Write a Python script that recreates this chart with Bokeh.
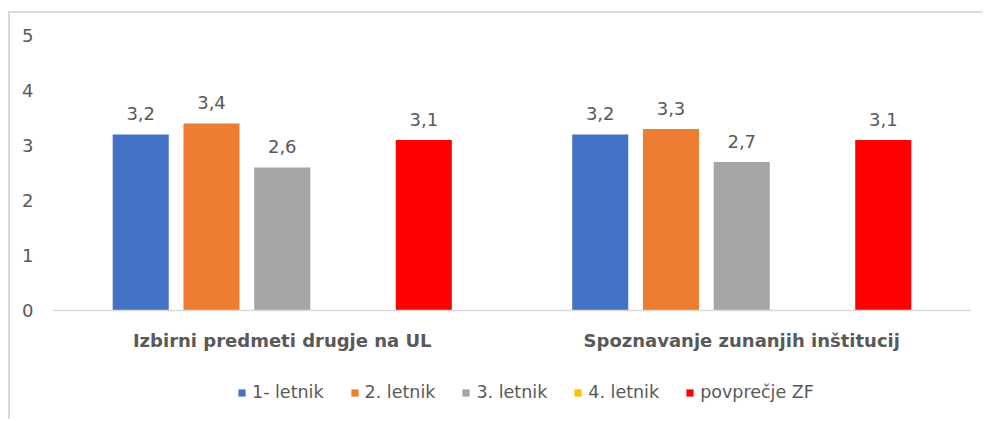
import math
from bokeh.plotting import figure
from bokeh.models import FactorRange, Range1d, ColumnDataSource, Legend, LegendItem
from bokeh.transform import dodge
from bokeh.core.properties import value
from bokeh.embed import file_html
from bokeh.resources import INLINE

categories = ["Izbirni predmeti drugje na UL", "Spoznavanje zunanjih inštitucij"]
series_names = ["1- letnik", "2. letnik", "3. letnik", "4. letnik", "povprečje ZF"]
letnik1 = [3.2, 3.2]
letnik2 = [3.4, 3.3]
letnik3 = [2.6, 2.7]
letnik4 = [float("nan"), float("nan")]
povprecje = [3.1, 3.1]
y_ticks = [0, 1, 2, 3, 4, 5]

series_values = [letnik1, letnik2, letnik3, letnik4, povprecje]
colors = ["#4472C4", "#ED7D31", "#A5A5A5", "#FFC000", "#FF0000"]
offsets = [-0.308, -0.154, 0.0, 0.154, 0.308]
bar_width = 0.122

FONT = "DejaVu Sans"
TXT = "#595959"

# frame spans 0..5 in the upper part; extra room below for labels and legend
p = figure(width=974, height=408,
           x_range=FactorRange(*categories, range_padding=0),
           y_range=Range1d(-1.7818, 5),
           output_backend="svg", toolbar_location=None,
           min_border_left=42, min_border_right=13,
           min_border_top=22, min_border_bottom=13)
p.styles = {"border-left": "2px solid #d9d9d9", "border-top": "2px solid #d9d9d9",
            "margin-top": "11px", "margin-left": "8px"}
p.outline_line_color = None
p.xgrid.grid_line_color = None
p.ygrid.grid_line_color = None

items = []
for name, vals, col, off in zip(series_names, series_values, colors, offsets):
    src = ColumnDataSource(dict(
        cat=categories,
        val=[0 if math.isnan(v) else v for v in vals],
        lab=["" if math.isnan(v) else f"{v:.1f}".replace(".", ",") for v in vals],
    ))
    r = p.vbar(x=dodge("cat", off, range=p.x_range), top="val", width=bar_width,
               source=src, fill_color=col, line_color=None)
    p.text(x=dodge("cat", off, range=p.x_range), y="val", text="lab", source=src,
           text_align="center", text_baseline="middle", y_offset=-21,
           text_font=value(FONT), text_font_size="18px", text_color=TXT)
    items.append(LegendItem(label=name, renderers=[r]))

p.yaxis.ticker = y_ticks
p.yaxis.axis_line_color = None
p.yaxis.major_tick_line_color = None
p.yaxis.minor_tick_line_color = None
p.yaxis.major_label_standoff = 13
p.yaxis.major_label_text_font = FONT
p.yaxis.major_label_text_font_size = "18px"
p.yaxis.major_label_text_color = TXT

p.xaxis.fixed_location = 0
p.xaxis.axis_line_color = "#d9d9d9"
p.xaxis.axis_line_width = 1.5
p.xaxis.major_tick_line_color = None
p.xaxis.minor_tick_line_color = None
p.xaxis.major_label_standoff = 13
p.xaxis.major_label_text_font = FONT
p.xaxis.major_label_text_font_size = "18px"
p.xaxis.major_label_text_font_style = "bold"
p.xaxis.major_label_text_color = TXT

legend = Legend(items=items, orientation="horizontal", location=(185, 6),
                glyph_width=9, glyph_height=9, label_standoff=6, spacing=26,
                padding=0, margin=0, border_line_color=None, background_fill_alpha=0,
                label_text_font=FONT, label_text_font_size="17.5px",
                label_text_color=TXT, label_height=20)
p.add_layout(legend, "center")

open("out.html", "w").write(file_html(p, INLINE))
